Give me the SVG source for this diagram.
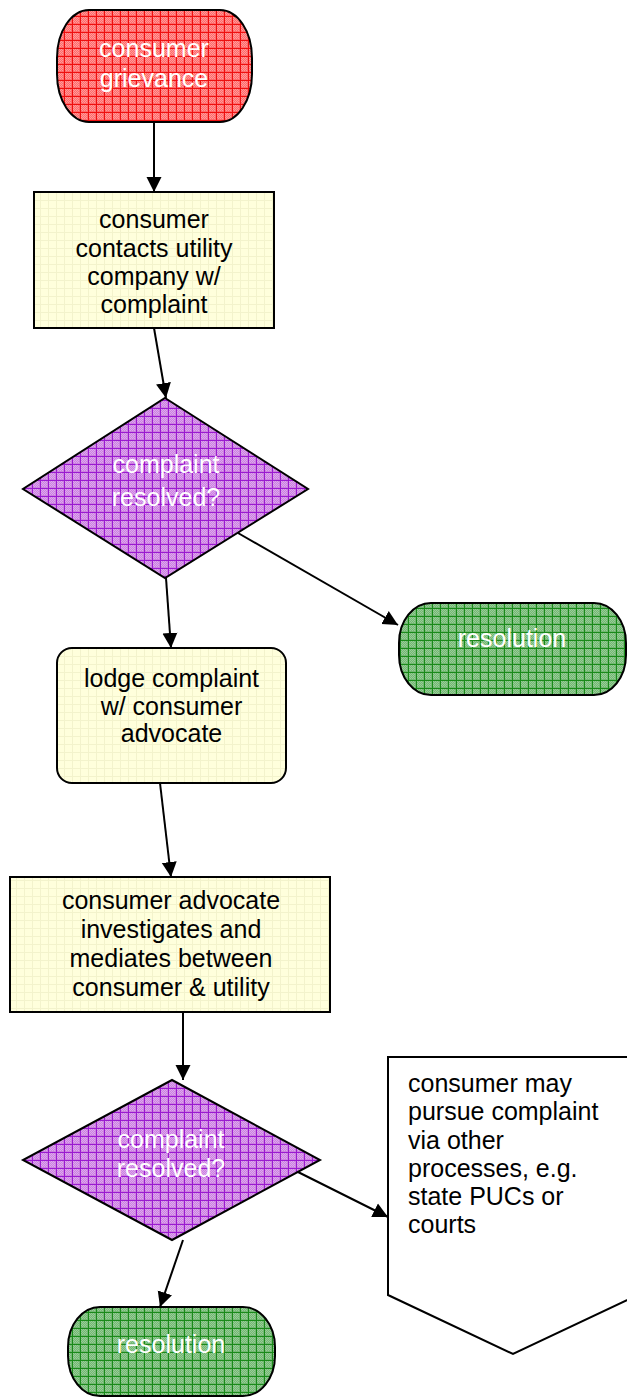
<svg xmlns="http://www.w3.org/2000/svg" width="627" height="1397" viewBox="0 0 627 1397">
<style>
text{font-family:"Liberation Sans",Arial,sans-serif;font-size:25px}
.w{fill:#ffffff}
.k{fill:#000000}
.m{text-anchor:middle}
.s{stroke:#000;stroke-width:2}
.c{stroke:#000;stroke-width:2;fill:none;marker-end:url(#ah)}
</style>
<defs>
<marker id="ah" markerUnits="userSpaceOnUse" markerWidth="16" markerHeight="16" refX="15" refY="7.5" orient="auto" viewBox="0 0 16 15">
<path d="M0,0 L15,7.5 L0,15 z" fill="#000"/>
</marker>
<pattern id="pr" width="8" height="8" patternUnits="userSpaceOnUse">
<rect width="8" height="8" fill="#ff6a6a"/>
<path d="M1,1h1v1h-1zM3,1h1v1h-1zM5,1h1v1h-1zM2,2h1v1h-1zM4,2h1v1h-1zM6,2h1v1h-1zM1,3h1v1h-1zM3,3h1v1h-1zM5,3h1v1h-1zM2,4h1v1h-1zM4,4h1v1h-1zM6,4h1v1h-1zM1,5h1v1h-1zM3,5h1v1h-1zM5,5h1v1h-1zM2,6h1v1h-1zM4,6h1v1h-1zM6,6h1v1h-1z" fill="#ff9a9a"/>
<path d="M0,0.5H8M0.5,0V8" stroke="#ee1010" stroke-width="1"/>
</pattern>
<pattern id="pp" width="8" height="8" patternUnits="userSpaceOnUse">
<rect width="8" height="8" fill="#cc80e0"/>
<path d="M1,1h1v1h-1zM3,1h1v1h-1zM5,1h1v1h-1zM2,2h1v1h-1zM4,2h1v1h-1zM6,2h1v1h-1zM1,3h1v1h-1zM3,3h1v1h-1zM5,3h1v1h-1zM2,4h1v1h-1zM4,4h1v1h-1zM6,4h1v1h-1zM1,5h1v1h-1zM3,5h1v1h-1zM5,5h1v1h-1zM2,6h1v1h-1zM4,6h1v1h-1zM6,6h1v1h-1z" fill="#dda8ee"/>
<path d="M0,0.5H8M0.5,0V8" stroke="#9a1ad0" stroke-width="1"/>
</pattern>
<pattern id="pg" width="8" height="8" patternUnits="userSpaceOnUse">
<rect width="8" height="8" fill="#72b872"/>
<path d="M1,1h1v1h-1zM3,1h1v1h-1zM5,1h1v1h-1zM2,2h1v1h-1zM4,2h1v1h-1zM6,2h1v1h-1zM1,3h1v1h-1zM3,3h1v1h-1zM5,3h1v1h-1zM2,4h1v1h-1zM4,4h1v1h-1zM6,4h1v1h-1zM1,5h1v1h-1zM3,5h1v1h-1zM5,5h1v1h-1zM2,6h1v1h-1zM4,6h1v1h-1zM6,6h1v1h-1z" fill="#98cc98"/>
<path d="M0,0.5H8M0.5,0V8" stroke="#1a8a1a" stroke-width="1"/>
</pattern>
<pattern id="py" width="8" height="8" patternUnits="userSpaceOnUse">
<rect width="8" height="8" fill="#ffffdc"/>
<path d="M0,0.5H8M0.5,0V8" stroke="#f3f3cc" stroke-width="1"/>
</pattern>
</defs>

<g id="connectors">
<line class="c" x1="154" y1="122" x2="154" y2="192"/>
<line class="c" x1="154" y1="328" x2="166" y2="398"/>
<line class="c" x1="238" y1="533" x2="398" y2="625"/>
<line class="c" x1="166" y1="578" x2="171" y2="648"/>
<line class="c" x1="160" y1="783" x2="171" y2="877"/>
<line class="c" x1="183" y1="1012" x2="183" y2="1080"/>
<line class="c" x1="298" y1="1172" x2="388" y2="1217"/>
<line class="c" x1="183" y1="1240" x2="160" y2="1307"/>
</g>

<g id="n-grievance">
<rect class="s" x="57" y="10" width="195" height="112" rx="32" ry="48" fill="url(#pr)"/>
<text class="w m" x="154" y="57">consumer</text>
<text class="w m" x="154" y="87">grievance</text>
</g>

<g id="n-contacts">
<rect class="s" x="34" y="192" width="240" height="136" fill="url(#py)"/>
<text class="k m" x="154" y="228">consumer</text>
<text class="k m" x="154" y="257">contacts utility</text>
<text class="k m" x="154" y="285">company w/</text>
<text class="k m" x="154" y="313">complaint</text>
</g>

<g id="n-resolved1">
<polygon class="s" points="165,398 308,489 165,578 23,489" fill="url(#pp)"/>
<text class="w m" x="166" y="473">complaint</text>
<text class="w m" x="166" y="506">resolved?</text>
</g>

<g id="n-resolution1">
<rect class="s" x="399" y="603" width="227" height="92" rx="32" ry="40" fill="url(#pg)"/>
<text class="w m" x="512" y="647">resolution</text>
</g>

<g id="n-lodge">
<rect class="s" x="57" y="648" width="229" height="135" rx="15" ry="15" fill="url(#py)"/>
<text class="k m" x="171.5" y="687">lodge complaint</text>
<text class="k m" x="171.5" y="714.5">w/ consumer</text>
<text class="k m" x="171.5" y="742">advocate</text>
</g>

<g id="n-investigates">
<rect class="s" x="10" y="877" width="320" height="135" fill="url(#py)"/>
<text class="k m" x="171" y="909">consumer advocate</text>
<text class="k m" x="171" y="938">investigates and</text>
<text class="k m" x="171" y="967">mediates between</text>
<text class="k m" x="171" y="996">consumer &amp; utility</text>
</g>

<g id="n-resolved2">
<polygon class="s" points="172,1080 320,1160 172,1240 23,1160" fill="url(#pp)"/>
<text class="w m" x="171" y="1148">complaint</text>
<text class="w m" x="171" y="1177">resolved?</text>
</g>

<g id="n-other">
<polygon class="s" points="388,1057 638,1057 638,1295 513,1354 388,1295" fill="#ffffff"/>
<text class="k" x="408" y="1092">consumer may</text>
<text class="k" x="408" y="1120">pursue complaint</text>
<text class="k" x="408" y="1148.5">via other</text>
<text class="k" x="408" y="1177">processes, e.g.</text>
<text class="k" x="408" y="1205">state PUCs or</text>
<text class="k" x="408" y="1233">courts</text>
</g>

<g id="n-resolution2">
<rect class="s" x="68" y="1307" width="207" height="89" rx="32" ry="40" fill="url(#pg)"/>
<text class="w m" x="171" y="1353">resolution</text>
</g>
</svg>
